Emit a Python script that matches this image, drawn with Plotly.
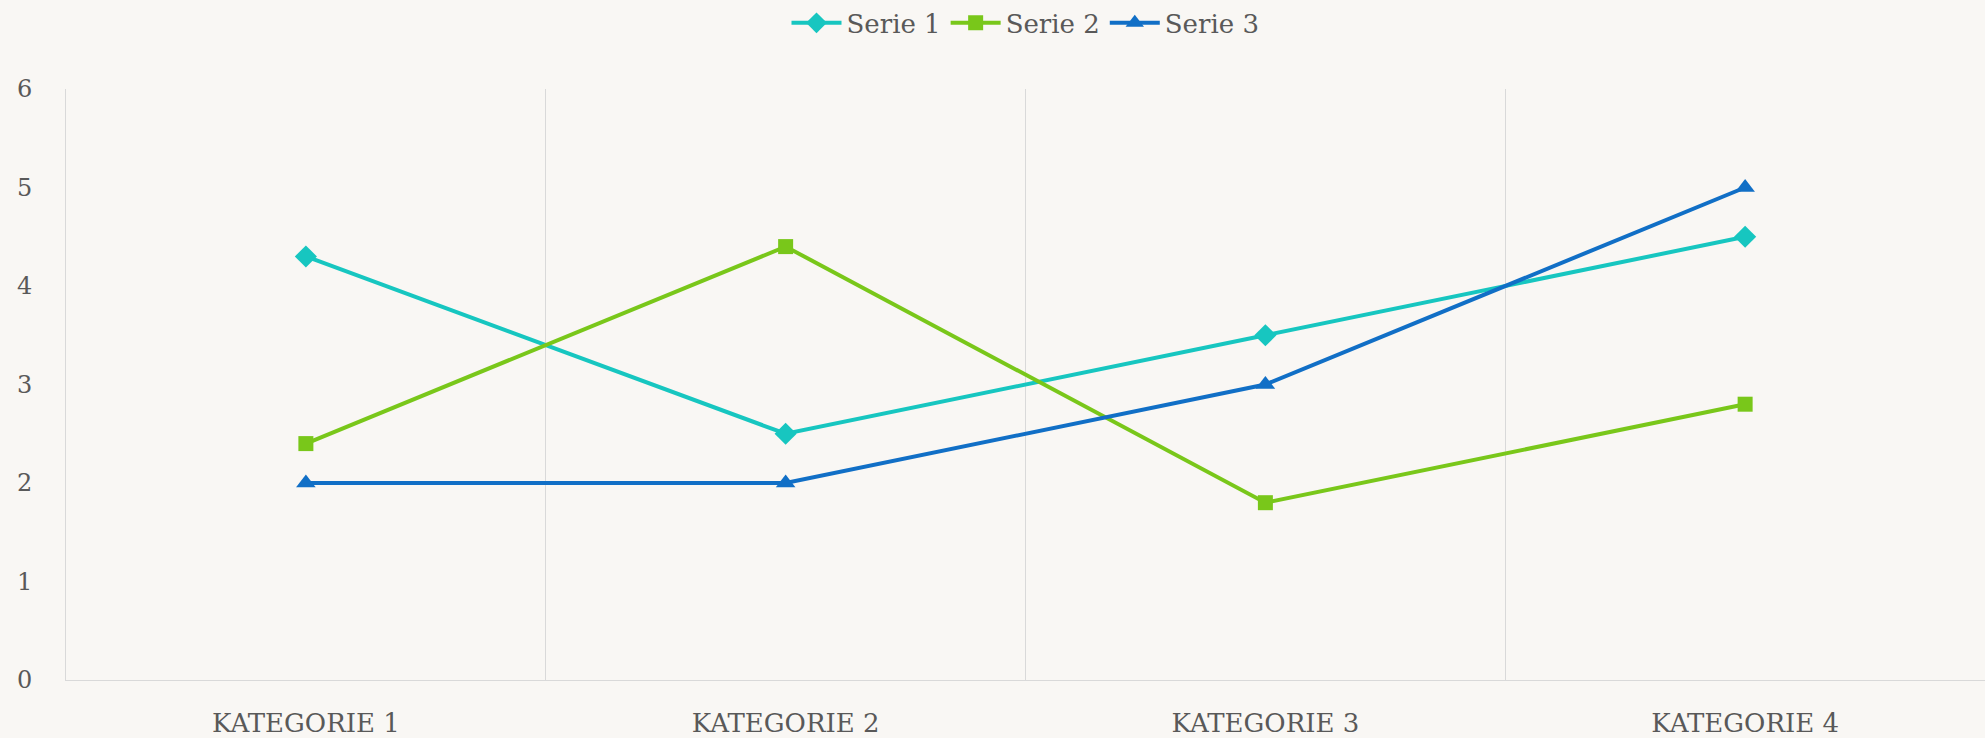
import plotly.graph_objects as go

categories = ["KATEGORIE 1", "KATEGORIE 2", "KATEGORIE 3", "KATEGORIE 4"]
serie1 = [4.3, 2.5, 3.5, 4.5]
serie2 = [2.4, 4.4, 1.8, 2.8]
serie3 = [2, 2, 3, 5]
y_ticks = [0, 1, 2, 3, 4, 5, 6]

fig = go.Figure()
fig.add_trace(go.Scatter(x=categories, y=serie1, name="Serie 1", mode="lines+markers",
                         line=dict(color="#17C6C0", width=4),
                         marker=dict(symbol="diamond", size=17, color="#17C6C0")))
fig.add_trace(go.Scatter(x=categories, y=serie2, name="Serie 2", mode="lines+markers",
                         line=dict(color="#79C71A", width=4),
                         marker=dict(symbol="square", size=15, color="#79C71A")))
fig.add_trace(go.Scatter(x=categories, y=serie3, name="Serie 3", mode="lines+markers",
                         line=dict(color="#116FC6", width=4),
                         marker=dict(symbol="triangle-up", size=17, color="#116FC6")))

fig.update_layout(
    width=1985, height=738,
    margin=dict(l=66, r=0, t=89, b=58, autoexpand=False),
    paper_bgcolor="#F9F7F4", plot_bgcolor="#F9F7F4",
    font=dict(family="DejaVu Serif, Liberation Serif, serif", color="#595959", size=22),
    legend=dict(orientation="h", x=0.5, xanchor="center", yref="container", y=0.969,
                yanchor="middle",
                font=dict(size=26, color="#595959"), bgcolor="rgba(0,0,0,0)",
                itemwidth=50, tracegroupgap=0),
    showlegend=True,
)
fig.update_xaxes(type="category", tickson="boundaries", showgrid=True, gridcolor="#D9D9D9",
                 gridwidth=1, showline=True, linecolor="#D9D9D9", linewidth=1,
                 ticks="", tickfont=dict(size=26, color="#595959"), ticklabelstandoff=20,
                 range=[-0.5, 3.5], zeroline=False, automargin=False)
fig.update_yaxes(range=[0, 6], tickvals=y_ticks, showgrid=False, showline=True,
                 linecolor="#D9D9D9", linewidth=1, ticks="", zeroline=False,
                 tickfont=dict(size=24, color="#595959"), ticklabelstandoff=28,
                 automargin=False)

fig.write_html("out.html", config={"displayModeBar": False},
               post_script="document.body.style.margin='0';document.body.style.background='#F9F7F4';")
